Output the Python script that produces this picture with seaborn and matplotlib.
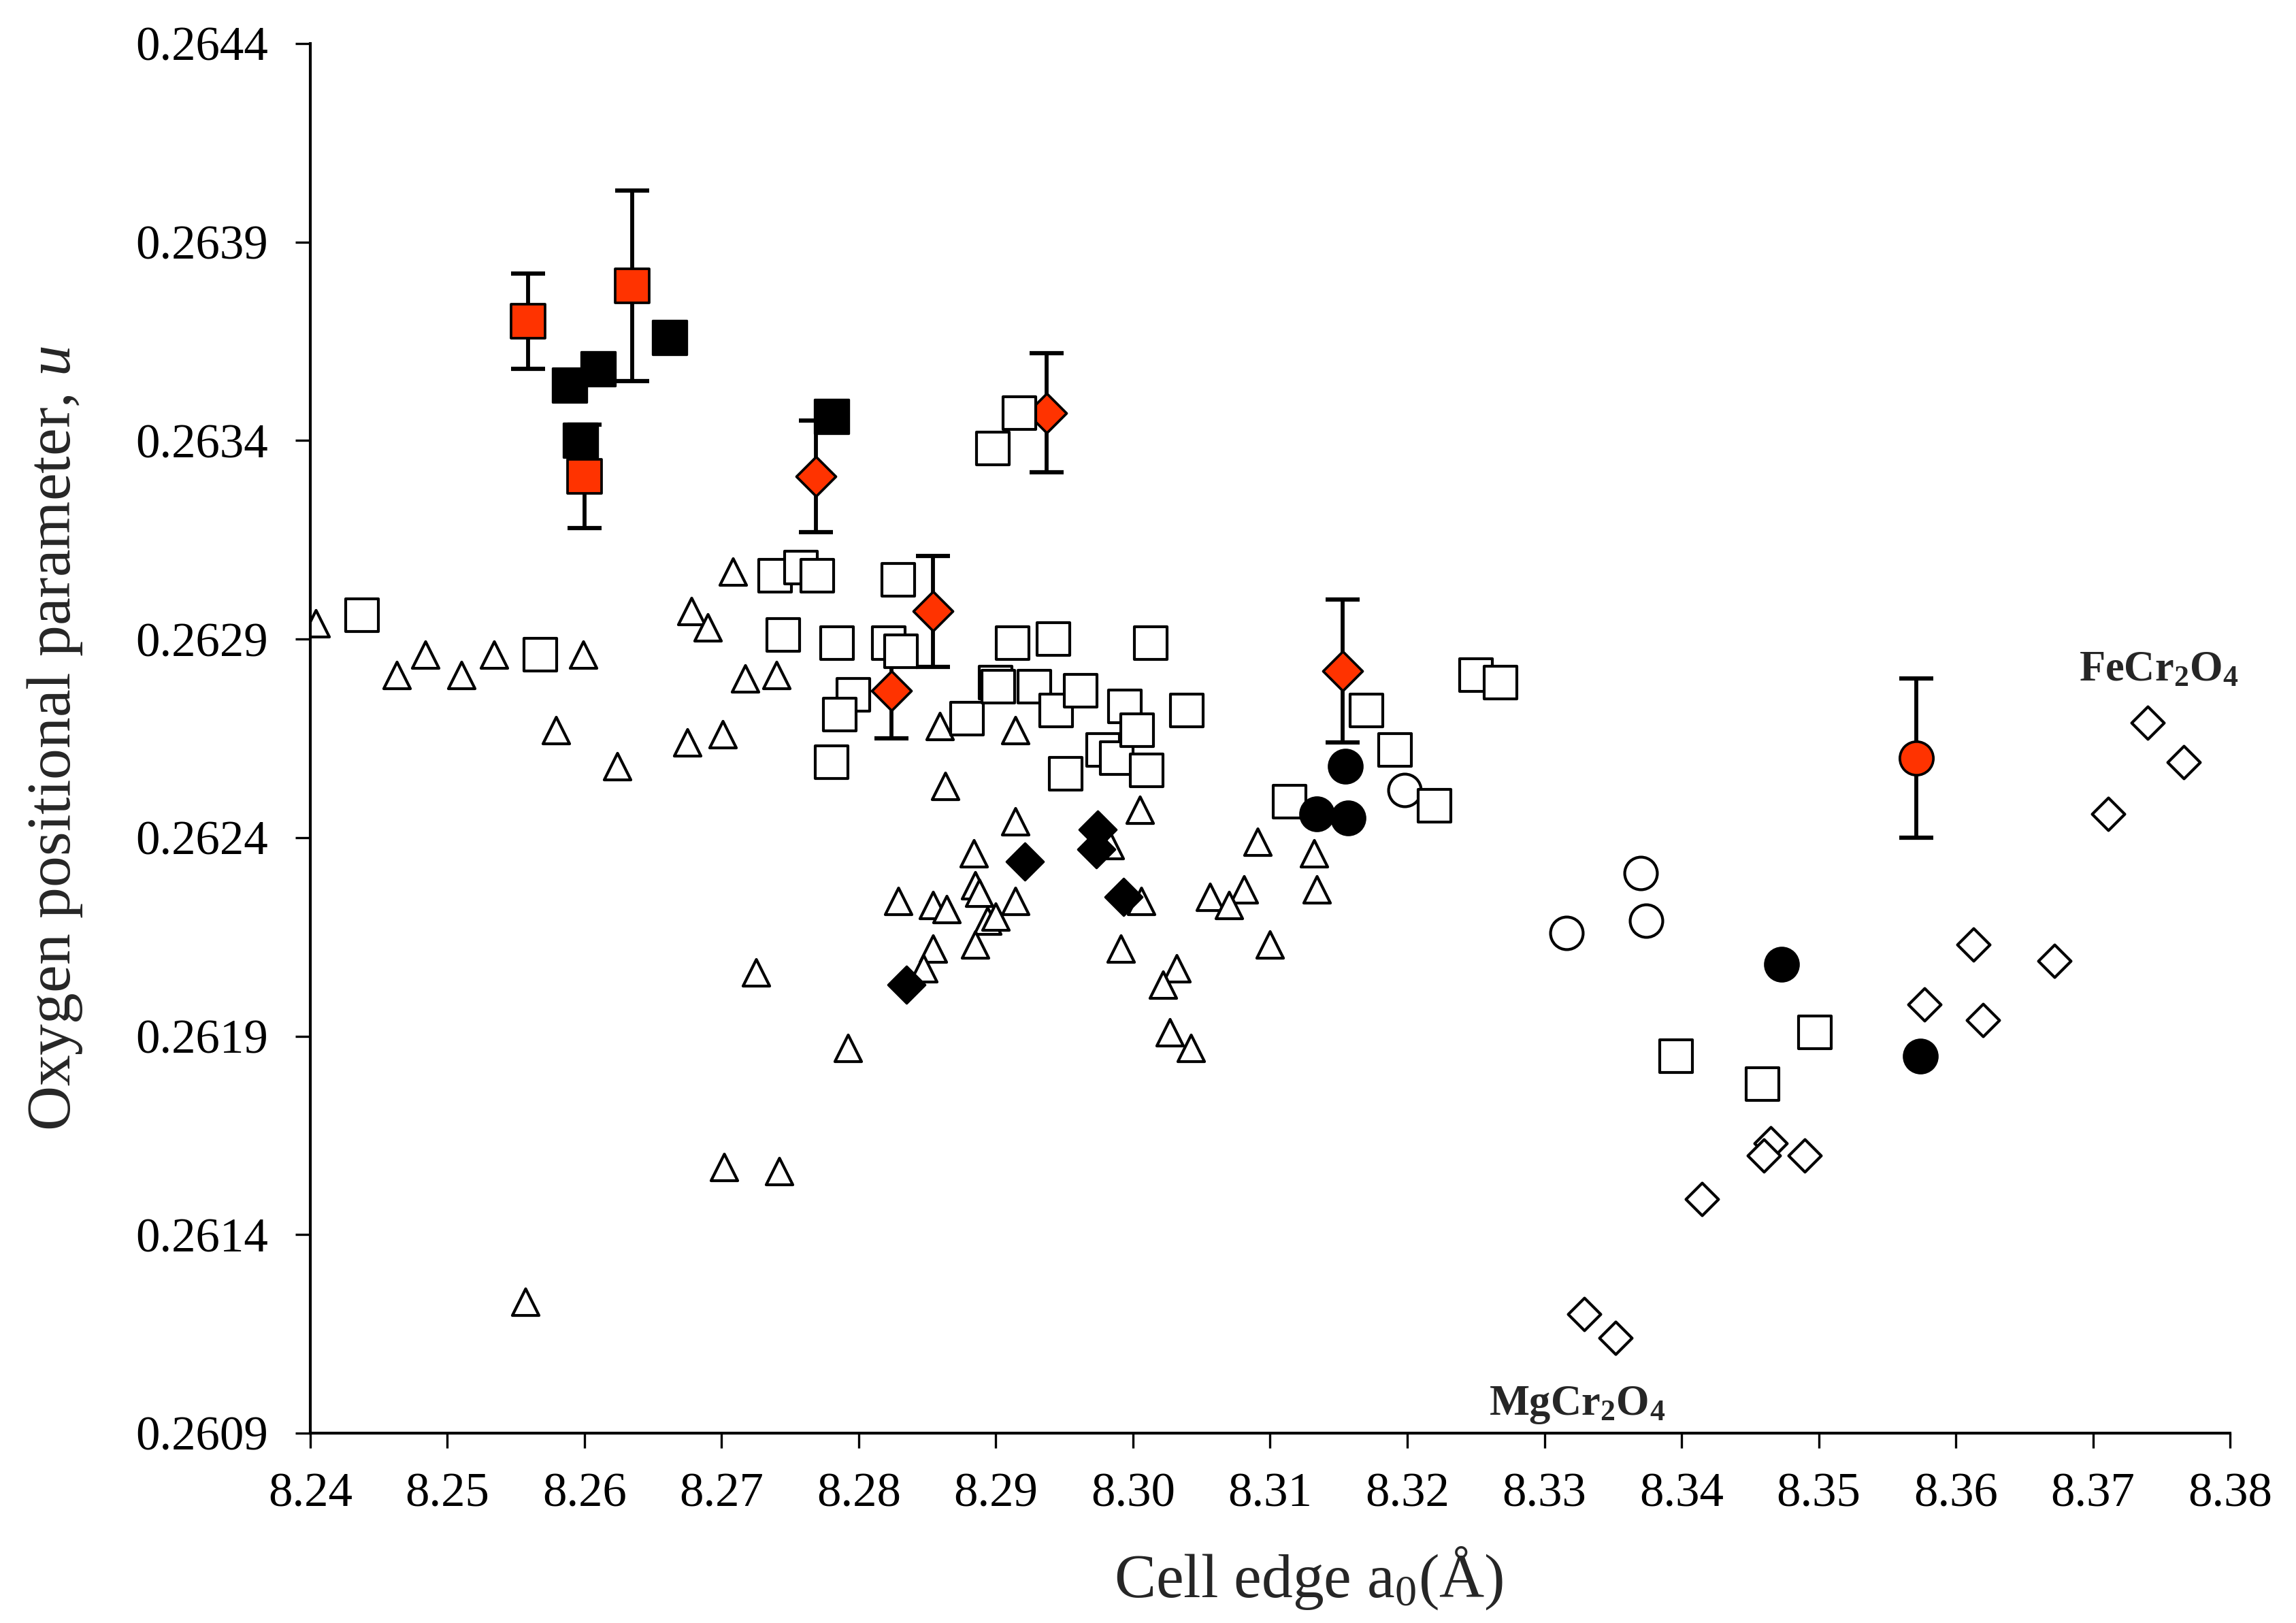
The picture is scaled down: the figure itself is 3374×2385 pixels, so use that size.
import matplotlib
matplotlib.use("Agg")
import matplotlib.pyplot as plt
import seaborn as sns

# open triangles
tri_x = [8.2404, 8.2463, 8.2484, 8.2510, 8.2534, 8.2599, 8.2579, 8.2624, 8.2557, 8.2675,
         8.2701, 8.2678, 8.2690, 8.2708, 8.2717, 8.2740, 8.2725, 8.2792, 8.2702, 8.2742,
         8.2859, 8.2914, 8.2863, 8.2914, 8.3005, 8.2884, 8.2829, 8.2854, 8.2864, 8.2885,
         8.2888, 8.2914, 8.2894, 8.2900, 8.2885, 8.2854, 8.2847, 8.2983, 8.3006, 8.2991,
         8.3091, 8.3056, 8.3081, 8.3070, 8.3132, 8.3134, 8.3100, 8.3032, 8.3022, 8.3027,
         8.3042]
tri_y = [0.26294, 0.26281, 0.26286, 0.26281, 0.26286, 0.26286, 0.26267, 0.26258, 0.26123, 0.26264,
         0.26266, 0.26297, 0.26293, 0.26307, 0.26280, 0.26281, 0.26206, 0.26187, 0.26157, 0.26156,
         0.26268, 0.26267, 0.26253, 0.26244, 0.26247, 0.26236, 0.26224, 0.26223, 0.26222, 0.26228,
         0.26226, 0.26224, 0.26219, 0.26220, 0.26213, 0.26212, 0.26207, 0.26238, 0.26224, 0.26212,
         0.26239, 0.26225, 0.26227, 0.26223, 0.26236, 0.26227, 0.26213, 0.26207, 0.26203, 0.26191,
         0.26187]

# open squares
sq_x = [8.2438, 8.2568, 8.2739, 8.2758, 8.2770, 8.2829, 8.2745, 8.2784, 8.2822, 8.2831,
        8.2912, 8.2942, 8.3013, 8.2796, 8.2786, 8.2780, 8.2879, 8.2900, 8.2902, 8.2928,
        8.2944, 8.2962, 8.2951, 8.2978, 8.2988, 8.2994, 8.3003, 8.3010, 8.3039, 8.3114,
        8.3170, 8.3191, 8.3220, 8.3250, 8.3268, 8.2898, 8.2917, 8.3396, 8.3459, 8.3497]
sq_y = [0.26296, 0.26286, 0.26306, 0.26308, 0.26306, 0.26305, 0.26291, 0.26289, 0.26289, 0.26287,
        0.26289, 0.26290, 0.26289, 0.26276, 0.26271, 0.26259, 0.26270, 0.26279, 0.26278, 0.26278,
        0.26272, 0.26277, 0.26256, 0.26262, 0.26260, 0.26273, 0.26267, 0.26257, 0.26272, 0.26249,
        0.26272, 0.26262, 0.26248, 0.26281, 0.26279, 0.26338, 0.26347, 0.26185, 0.26178, 0.26191]

# open circles
oc_x = [8.3198, 8.3316, 8.3370, 8.3374]
oc_y = [0.26252, 0.26216, 0.26231, 0.26219]

# open diamonds
od_x = [8.3740, 8.3766, 8.3711, 8.3613, 8.3672, 8.3577, 8.3620, 8.3465, 8.3460, 8.3490,
        8.3415, 8.3329, 8.3352]
od_y = [0.26269, 0.26259, 0.26246, 0.26213, 0.26209, 0.26198, 0.26194, 0.26163, 0.26160, 0.26160,
        0.26149, 0.26120, 0.26114]

# filled black symbols
bd_x = [8.2921, 8.2974, 8.2973, 8.2993, 8.2835]
bd_y = [0.26234, 0.26242, 0.26237, 0.26225, 0.26203]
bc_x = [8.3155, 8.3134, 8.3157, 8.3473, 8.3574]
bc_y = [0.26258, 0.26246, 0.26245, 0.26208, 0.26185]
bs_x = [8.2589, 8.2610, 8.2662, 8.2597, 8.2780]
bs_y = [0.26354, 0.26358, 0.26366, 0.26340, 0.26346]

# red symbols with error bars
rs_x = [8.2559, 8.2635, 8.2600]
rs_y = [0.26370, 0.26379, 0.26331]
rs_err = [0.00012, 0.00024, 0.00013]
rd_x = [8.2769, 8.2937, 8.2854, 8.2824, 8.3153]
rd_y = [0.26331, 0.26347, 0.26297, 0.26277, 0.26282]
rd_err = [0.00014, 0.00015, 0.00014, 0.00012, 0.00018]
rc_x = [8.3571]
rc_y = [0.26260]
rc_err = [0.00020]

x_ticks = [8.24, 8.25, 8.26, 8.27, 8.28, 8.29, 8.30, 8.31, 8.32, 8.33, 8.34, 8.35, 8.36, 8.37, 8.38]
y_ticks = [0.2609, 0.2614, 0.2619, 0.2624, 0.2629, 0.2634, 0.2639, 0.2644]

RED = "#FF3300"

sns.set_style("ticks")
plt.rcParams["font.family"] = ["Liberation Serif", "DejaVu Serif"]
plt.rcParams["mathtext.fontset"] = "custom"
plt.rcParams["mathtext.rm"] = "Liberation Serif"
plt.rcParams["mathtext.it"] = "Liberation Serif:italic"
plt.rcParams["mathtext.bf"] = "Liberation Serif:bold"

fig = plt.figure(figsize=(3374 / 300, 2385 / 300), dpi=300)
ax = fig.add_axes([0.1351, 0.117, 0.8362, 0.8562])


def dots(x, y, marker, s, face, lw, z):
    sns.scatterplot(x=x, y=y, marker=marker, s=s, color=face, edgecolor="black",
                    linewidth=lw, ax=ax, zorder=z, legend=False)


dots(tri_x, tri_y, "^", 88, "white", 1.0, 2)
dots(oc_x, oc_y, "o", 132, "white", 1.0, 2)
dots(od_x, od_y, "D", 66, "white", 1.0, 2)

for xs, ys, es in [(rs_x, rs_y, rs_err), (rd_x, rd_y, rd_err), (rc_x, rc_y, rc_err)]:
    ax.errorbar(xs, ys, yerr=es, fmt="none", ecolor="black", elinewidth=1.4,
                capsize=6, capthick=1.5, zorder=3)

dots(rs_x, rs_y, "s", 139, RED, 0.9, 4)
dots(rd_x, rd_y, "D", 97, RED, 0.9, 4)
dots(rc_x, rc_y, "o", 140, RED, 0.9, 4)

dots(sq_x, sq_y, "s", 128, "white", 1.0, 5)

dots(bd_x, bd_y, "D", 85, "black", 0.8, 6)
dots(bc_x, bc_y, "o", 140, "black", 0.8, 6)
dots(bs_x, bs_y, "s", 144, "black", 0.8, 6)

ax.text(8.3748, 0.26282, r"FeCr$_\mathbf{2}$O$_\mathbf{4}$", fontsize=15,
        fontweight="bold", ha="center", va="center")
ax.text(8.3324, 0.26097, r"MgCr$_\mathbf{2}$O$_\mathbf{4}$", fontsize=15,
        fontweight="bold", ha="center", va="center")

ax.set_xlim(8.24, 8.38)
ax.set_ylim(0.2609, 0.2644)
ax.set_xticks(x_ticks)
ax.set_xticklabels([f"{t:.2f}" for t in x_ticks])
ax.set_yticks(y_ticks)
ax.set_yticklabels([f"{t:.4f}" for t in y_ticks])
ax.tick_params(axis="both", direction="out", length=5.3, width=0.8, labelsize=17,
               color="black", labelcolor="black")
ax.tick_params(axis="x", pad=8.5)
ax.tick_params(axis="y", pad=9.5)

ax.set_xlabel(r"Cell edge a$_0$(Å)", fontsize=22, labelpad=10, x=0.52)
ax.set_ylabel(r"Oxygen positional parameter, $\mathit{u}$", fontsize=22, labelpad=18)

for side in ["top", "right"]:
    ax.spines[side].set_visible(False)
for side in ["left", "bottom"]:
    ax.spines[side].set_linewidth(1.0)
    ax.spines[side].set_color("black")

fig.savefig("out.png", dpi=300, facecolor="white")
